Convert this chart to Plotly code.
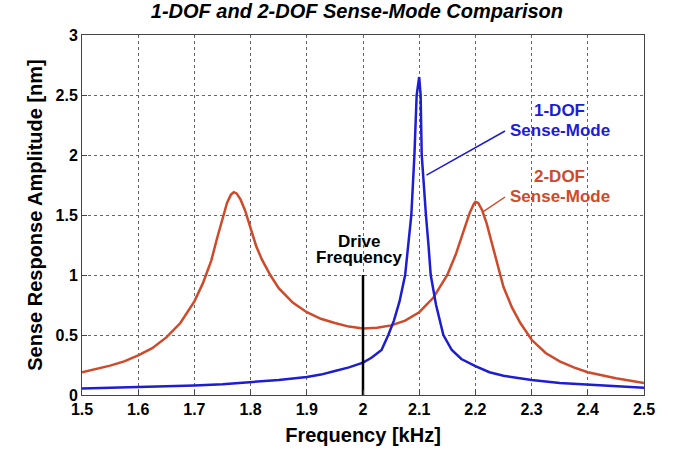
import plotly.graph_objects as go

# ---- data ----
freq_1dof = [1.5, 1.6, 1.7, 1.75, 1.8, 1.85, 1.9, 1.925, 1.95, 1.975, 2.0, 2.015, 2.033,
             2.045, 2.055, 2.065, 2.075, 2.081, 2.086, 2.0915, 2.0955, 2.1, 2.1025,
             2.1045, 2.108, 2.112, 2.1165, 2.1205, 2.13, 2.143, 2.158, 2.175, 2.2,
             2.225, 2.25, 2.3, 2.35, 2.4, 2.45, 2.5]
amp_1dof = [0.055, 0.065, 0.08, 0.09, 0.105, 0.125, 0.15, 0.17, 0.2, 0.23, 0.27, 0.31, 0.375,
            0.5, 0.62, 0.78, 1.0, 1.25, 1.5, 2.0, 2.5, 2.65, 2.5,
            2.0, 1.75, 1.5, 1.25, 1.0, 0.75, 0.5, 0.375, 0.3, 0.24,
            0.19, 0.16, 0.125, 0.1, 0.085, 0.07, 0.06]

freq_2dof = [1.5, 1.525, 1.55, 1.575, 1.6, 1.625, 1.65, 1.675, 1.7, 1.715, 1.73, 1.74, 1.75,
             1.758, 1.765, 1.77, 1.775, 1.782, 1.79, 1.8, 1.81, 1.82, 1.835, 1.85, 1.875,
             1.9, 1.925, 1.95, 1.975, 2.0, 2.025, 2.05, 2.075, 2.1, 2.125, 2.15, 2.165,
             2.18, 2.19, 2.197, 2.2, 2.205, 2.212, 2.22, 2.23, 2.24, 2.25, 2.265, 2.28,
             2.3, 2.325, 2.35, 2.375, 2.4, 2.45, 2.5]
amp_2dof = [0.19, 0.215, 0.245, 0.28, 0.33, 0.39, 0.48, 0.6, 0.78, 0.93, 1.12, 1.3, 1.48,
            1.6, 1.67, 1.69, 1.68, 1.63, 1.54, 1.38, 1.24, 1.13, 1.0, 0.89, 0.77,
            0.69, 0.635, 0.6, 0.57, 0.555, 0.56, 0.58, 0.62, 0.69, 0.81, 1.0, 1.17,
            1.38, 1.52, 1.59, 1.61, 1.6, 1.54, 1.43, 1.25, 1.07, 0.9, 0.73, 0.6,
            0.46, 0.35, 0.28, 0.23, 0.19, 0.14, 0.1]

drive_freq = [2.0, 2.0]
drive_amp = [0.0, 1.0]

lead_1dof_x = [2.113, 2.2527]
lead_1dof_y = [1.833, 2.2]
lead_2dof_x = [2.214, 2.2527]
lead_2dof_y = [1.528, 1.65]

x_tickvals = [1.5, 1.6, 1.7, 1.8, 1.9, 2.0, 2.1, 2.2, 2.3, 2.4, 2.5]
x_ticktext = ["1.5", "1.6", "1.7", "1.8", "1.9", "2", "2.1", "2.2", "2.3", "2.4", "2.5"]
y_tickvals = [0, 0.5, 1, 1.5, 2, 2.5, 3]
y_ticktext = ["0", "0.5", "1", "1.5", "2", "2.5", "3"]

BLUE = "#1d1dd2"
RED = "#cf4a2a"
FONT = "Liberation Sans, Arial, sans-serif"

fig = go.Figure()
fig.add_trace(go.Scatter(x=freq_2dof, y=amp_2dof, mode="lines", line=dict(color=RED, width=2.5), showlegend=False))
fig.add_trace(go.Scatter(x=freq_1dof, y=amp_1dof, mode="lines", line=dict(color=BLUE, width=2.5), showlegend=False))
fig.add_trace(go.Scatter(x=drive_freq, y=drive_amp, mode="lines", line=dict(color="black", width=2.5), showlegend=False))
fig.add_trace(go.Scatter(x=lead_1dof_x, y=lead_1dof_y, mode="lines", line=dict(color=BLUE, width=1.5), showlegend=False))
fig.add_trace(go.Scatter(x=lead_2dof_x, y=lead_2dof_y, mode="lines", line=dict(color=RED, width=1.5), showlegend=False))

def ann(x, y, text, color):
    fig.add_annotation(x=x, y=y, xref="x", yref="y", text=text, showarrow=False,
                       xanchor="center", yanchor="middle",
                       font=dict(family=FONT, size=17, color=color, weight="bold"))

ann(2.3505, 2.375, "1-DOF", BLUE)
ann(2.3505, 2.205, "Sense-Mode", BLUE)
ann(2.3505, 1.817, "2-DOF", RED)
ann(2.3505, 1.655, "Sense-Mode", RED)
ann(1.993, 1.28, "Drive", "black")
ann(1.993, 1.145, "Frequency", "black")

axis_common = dict(showline=True, mirror=True, linecolor="#444", linewidth=1,
                   showgrid=True, gridcolor="#666", griddash="dot", gridwidth=1,
                   ticks="inside", ticklen=5, tickcolor="#444", zeroline=False,
                   tickfont=dict(family=FONT, size=16, color="black", weight="bold"))

fig.update_xaxes(range=[1.5, 2.5], tickvals=x_tickvals, ticktext=x_ticktext,
                 title=dict(text="Frequency [kHz]", font=dict(family=FONT, size=20, color="black", weight="bold"), standoff=10),
                 **axis_common)
fig.update_yaxes(range=[0, 3], tickvals=y_tickvals, ticktext=y_ticktext,
                 title=dict(text="Sense Response Amplitude [nm]", font=dict(family=FONT, size=20, color="black", weight="bold"), standoff=7),
                 **axis_common)

fig.update_layout(
    width=676, height=455,
    margin=dict(l=82, r=32, t=35, b=60),
    paper_bgcolor="white", plot_bgcolor="white",
    title=dict(text="1-DOF and 2-DOF Sense-Mode Comparison", x=0.528, xanchor="center", y=0.975, yanchor="middle",
               font=dict(family=FONT, size=20, color="black", weight="bold", style="italic")),
)

fig.write_html("out.html")
